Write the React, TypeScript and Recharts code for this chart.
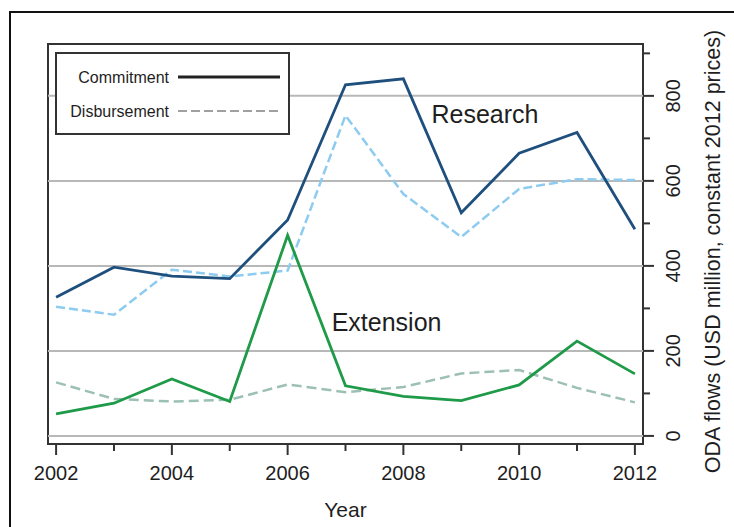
import {
  LineChart,
  Line,
  XAxis,
  YAxis,
  Legend,
  ReferenceLine,
  ReferenceArea,
  ReferenceDot,
} from 'recharts';

const years = [2002, 2003, 2004, 2005, 2006, 2007, 2008, 2009, 2010, 2011, 2012];
const researchCommitment = [326, 397, 376, 370, 508, 826, 840, 525, 665, 714, 486];
const researchDisbursement = [304, 285, 391, 375, 389, 754, 569, 468, 581, 604, 602];
const extensionCommitment = [52, 77, 134, 81, 472, 118, 93, 83, 120, 223, 146];
const extensionDisbursement = [126, 87, 81, 85, 121, 103, 115, 147, 155, 113, 79];

const yTicks = [0, 100, 200, 300, 400, 500, 600, 700, 800, 900];
const gridValues = [0, 200, 400, 600, 800];
const xDomain = [2001.86, 2012.14];
const yDomain = [-19, 922];

const data = years.map((year, i) => ({
  year,
  researchCommitment: researchCommitment[i],
  researchDisbursement: researchDisbursement[i],
  extensionCommitment: extensionCommitment[i],
  extensionDisbursement: extensionDisbursement[i],
}));

const FONT = '"Liberation Sans", Arial, Helvetica, sans-serif';
const TEXT = '#1e1e1e';
const AXIS = '#333';

const XTick = ({ x, y, payload }: any) => {
  const major = payload.value % 2 === 0;
  return (
    <g>
      <line x1={x} y1={y} x2={x} y2={y + (major ? 11 : 7)} stroke={AXIS} strokeWidth={2} />
      {major && (
        <text x={x} y={y + 36} textAnchor="middle" fontSize={20} fill={TEXT} fontFamily={FONT}>
          {payload.value}
        </text>
      )}
    </g>
  );
};

const YTick = ({ x, y, payload }: any) => {
  const major = payload.value % 200 === 0;
  const tx = x + 37;
  return (
    <g>
      <line x1={x} y1={y} x2={x + (major ? 11 : 7)} y2={y} stroke={AXIS} strokeWidth={2} />
      {major && (
        <text
          x={tx}
          y={y}
          transform={`rotate(-90 ${tx} ${y})`}
          textAnchor="middle"
          fontSize={20}
          fill={TEXT}
          fontFamily={FONT}
        >
          {payload.value}
        </text>
      )}
    </g>
  );
};

const YTitle = ({ viewBox }: any) => {
  const cx = viewBox.x + 77;
  const cy = viewBox.y + viewBox.height / 2 + 7.5;
  return (
    <text
      x={cx}
      y={cy}
      transform={`rotate(-90 ${cx} ${cy})`}
      textAnchor="middle"
      fontSize={21.5}
      fill={TEXT}
      fontFamily={FONT}
    >
      ODA flows (USD million, constant 2012 prices)
    </text>
  );
};

const LegendBox = () => (
  <svg width={235} height={83} style={{ display: 'block' }}>
    <rect x={1} y={1} width={233} height={81} fill="#fff" stroke={AXIS} strokeWidth={2} />
    <text x={114} y={31} textAnchor="end" fontSize={16} fill={TEXT} fontFamily={FONT}>
      Commitment
    </text>
    <line x1={123} y1={25} x2={225} y2={25} stroke="#222" strokeWidth={3} />
    <text x={114} y={65} textAnchor="end" fontSize={16} fill={TEXT} fontFamily={FONT}>
      Disbursement
    </text>
    <line x1={123} y1={59} x2={227} y2={59} stroke="#a0a0a0" strokeWidth={2.2} strokeDasharray="9 4" />
  </svg>
);

export default function App() {
  return (
    <div style={{ position: 'absolute', left: 0, top: 0, width: 734, height: 527, overflow: 'hidden', background: '#fff' }}>
      <div
        style={{
          position: 'absolute',
          left: 9,
          top: 11,
          width: 800,
          height: 600,
          borderTop: '2px solid #111',
          borderLeft: '2px solid #111',
        }}
      />
      <div style={{ position: 'absolute', left: 0, top: 0 }}>
        <LineChart width={734} height={527} data={data} margin={{ top: 44, right: 0, bottom: 0, left: 48 }}>
          <XAxis
            type="number"
            dataKey="year"
            domain={xDomain}
            ticks={years}
            allowDataOverflow
            interval={0}
            height={83}
            axisLine={false}
            tickLine={false}
            tickSize={0}
            tickMargin={0}
            tick={<XTick />}
            label={{ value: 'Year', position: 'insideBottom', offset: 10, fontSize: 21, fill: TEXT, fontFamily: FONT }}
          />
          <YAxis
            type="number"
            orientation="right"
            domain={yDomain}
            ticks={yTicks}
            allowDataOverflow
            interval={0}
            width={91}
            axisLine={false}
            tickLine={false}
            tickSize={0}
            tickMargin={0}
            tick={<YTick />}
            label={{ content: YTitle }}
          />
          {gridValues.map((v) => (
            <ReferenceLine key={v} y={v} stroke="#b8b8b8" strokeWidth={2} />
          ))}
          <ReferenceArea
            x1={xDomain[0]}
            x2={xDomain[1]}
            y1={yDomain[0]}
            y2={yDomain[1]}
            fill="none"
            fillOpacity={0}
            stroke={AXIS}
            strokeWidth={2}
          />
          <ReferenceDot
            x={2009.41}
            y={758}
            r={1}
            fill="none"
            stroke="none"
            label={{ value: 'Research', position: 'center', fontSize: 25, fill: TEXT, fontFamily: FONT }}
          />
          <ReferenceDot
            x={2007.71}
            y={268}
            r={1}
            fill="none"
            stroke="none"
            label={{ value: 'Extension', position: 'center', fontSize: 25, fill: TEXT, fontFamily: FONT }}
          />
          <Line
            type="linear"
            dataKey="researchDisbursement"
            stroke="#8ecbf0"
            strokeWidth={2.5}
            strokeDasharray="9 4"
            dot={false}
            isAnimationActive={false}
          />
          <Line
            type="linear"
            dataKey="extensionDisbursement"
            stroke="#9dc0b4"
            strokeWidth={2.5}
            strokeDasharray="10 5"
            dot={false}
            isAnimationActive={false}
          />
          <Line
            type="linear"
            dataKey="researchCommitment"
            stroke="#1f4f7d"
            strokeWidth={2.8}
            dot={false}
            isAnimationActive={false}
          />
          <Line
            type="linear"
            dataKey="extensionCommitment"
            stroke="#1e9a48"
            strokeWidth={2.8}
            dot={false}
            isAnimationActive={false}
          />
          <Legend
            layout="vertical"
            align="center"
            verticalAlign="middle"
            wrapperStyle={{ left: 55, top: 52, width: 235, height: 83 }}
            content={() => <LegendBox />}
          />
        </LineChart>
      </div>
    </div>
  );
}
